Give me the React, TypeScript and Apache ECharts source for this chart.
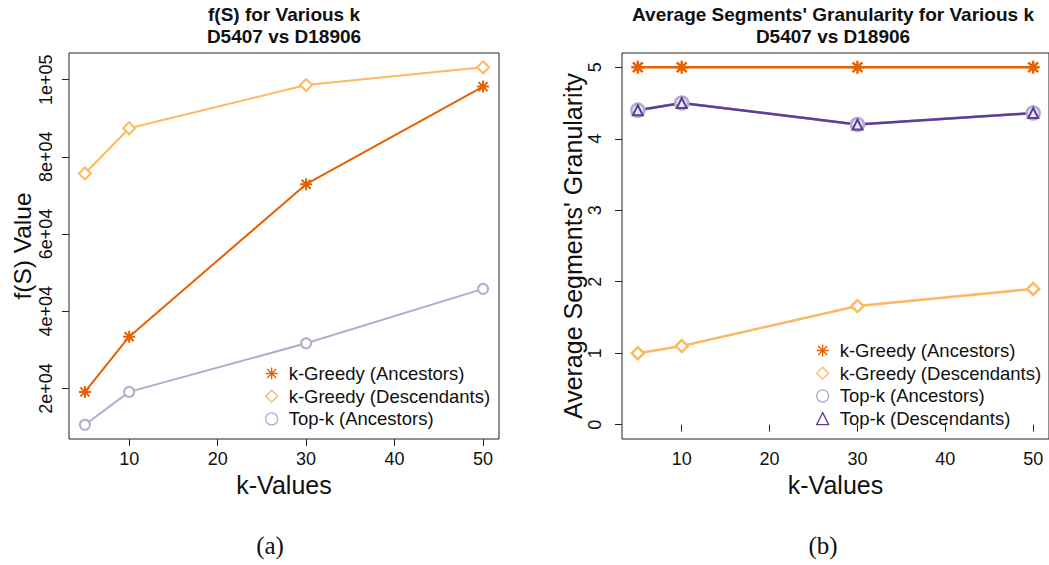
import React, { useEffect, useRef } from "react";
import * as echarts from "echarts";

const kValues = [5, 10, 30, 50];
const xTicks = [10, 20, 30, 40, 50];

// Panel (a): f(S) values
const fsGreedyAnc = [19100, 33400, 72900, 98200];
const fsGreedyDesc = [75700, 87400, 98600, 103200];
const fsTopkAnc = [10600, 19100, 31700, 45800];
const fsTicks = [20000, 40000, 60000, 80000, 100000];

// Panel (b): average segments' granularity
const granGreedyAnc = [5, 5, 5, 5];
const granGreedyDesc = [1.0, 1.1, 1.66, 1.9];
const granTopkAnc = [4.4, 4.5, 4.2, 4.36];
const granTopkDesc = [4.4, 4.5, 4.2, 4.36];
const granTicks = [0, 1, 2, 3, 4, 5];

const names = [
  "k-Greedy (Ancestors)",
  "k-Greedy (Descendants)",
  "Top-k (Ancestors)",
  "Top-k (Descendants)",
];

const C_DARK_ORANGE = "#E66101";
const C_LIGHT_ORANGE = "#FDB863";
const C_LAVENDER = "#B2ABD2";
const C_PURPLE = "#5E3C99";

const ASTERISK =
  "path://M0,-10L0,10M-10,0L10,0M-7.5,-7.5L7.5,7.5M-7.5,7.5L7.5,-7.5";

const FONT = "'Liberation Sans', Arial, Helvetica, sans-serif";

function ext(min: number, max: number) {
  const d = (max - min) * 0.04;
  return [min - d, max + d];
}

function sciLabel(v: number) {
  const s = v.toExponential(0); // e.g. 2e+4
  return s.replace(/e([+-])(\d)$/, "e$10$2");
}

export default function App() {
  const ref = useRef<HTMLDivElement>(null);
  useEffect(() => {
    if (!ref.current) return;
    const chart = echarts.init(ref.current, undefined, { renderer: "svg" });

    const allFs = [...fsGreedyAnc, ...fsGreedyDesc, ...fsTopkAnc];
    const [fsMin, fsMax] = ext(Math.min(...allFs), Math.max(...allFs));
    const [xMin, xMax] = ext(Math.min(...kValues), Math.max(...kValues));
    const [gMin, gMax] = ext(0, 5);

    const pairs = (ys: number[]) => kValues.map((k, i) => [k, ys[i]]);

    const xAxisBase = (gridIndex: number) => ({
      type: "value",
      gridIndex,
      min: xMin,
      max: xMax,
      splitLine: { show: false },
      axisLine: { show: false },
      axisTick: {
        show: true,
        length: 7,
        inside: false,
        customValues: xTicks,
        lineStyle: { color: "#222", width: 1 },
      },
      axisLabel: {
        customValues: xTicks,
        fontSize: 18,
        color: "#111",
        fontFamily: FONT,
        margin: 11,
      },
      name: "k-Values",
      nameLocation: "middle",
      nameGap: 29,
      nameTextStyle: { fontSize: 25, color: "#111", fontFamily: FONT },
    });

    const legendItem = (name: string, icon: string, color: string) => ({
      name,
      icon,
      itemStyle: { color: "transparent", borderColor: color, borderWidth: 1.3 },
    });

    const legendBase = {
      orient: "vertical",
      padding: 0,
      itemWidth: 12,
      itemHeight: 12,
      itemGap: 3.7,
      selectedMode: false,
      textStyle: {
        fontSize: 18.5,
        color: "#111",
        fontFamily: FONT,
        padding: [0, 0, 0, 6],
      },
    };

    const option: any = {
      animation: false,
      backgroundColor: "#fff",
      textStyle: { fontFamily: FONT },
      grid: [
        {
          left: 69,
          top: 53,
          width: 430,
          height: 386,
          show: true,
          borderColor: "#222",
          borderWidth: 1,
          backgroundColor: "transparent",
        },
        {
          left: 622,
          top: 53,
          width: 428,
          height: 386,
          show: true,
          borderColor: "#222",
          borderWidth: 1,
          backgroundColor: "transparent",
        },
      ],
      xAxis: [xAxisBase(0), xAxisBase(1)],
      yAxis: [
        {
          type: "value",
          gridIndex: 0,
          min: fsMin,
          max: fsMax,
          splitLine: { show: false },
          axisLine: { show: false },
          axisTick: {
            show: true,
            length: 7,
            customValues: fsTicks,
            lineStyle: { color: "#222", width: 1 },
          },
          axisLabel: {
            customValues: fsTicks,
            rotate: 90,
            fontSize: 18,
            color: "#111",
            fontFamily: FONT,
            margin: 14,
            formatter: (v: number) => sciLabel(v),
          },
          name: "f(S) Value",
          nameLocation: "middle",
          nameGap: 34,
          nameTextStyle: { fontSize: 24.5, color: "#111", fontFamily: FONT },
        },
        {
          type: "value",
          gridIndex: 1,
          min: gMin,
          max: gMax,
          splitLine: { show: false },
          axisLine: { show: false },
          axisTick: {
            show: true,
            length: 7,
            customValues: granTicks,
            lineStyle: { color: "#222", width: 1 },
          },
          axisLabel: {
            customValues: granTicks,
            rotate: 90,
            fontSize: 18,
            color: "#111",
            fontFamily: FONT,
            margin: 18,
          },
          name: "Average Segments' Granularity",
          nameLocation: "middle",
          nameGap: 35,
          nameTextStyle: { fontSize: 25, color: "#111", fontFamily: FONT },
        },
      ],
      legend: [
        {
          ...legendBase,
          left: 265,
          top: 364,
          data: [
            legendItem(names[0], ASTERISK, C_DARK_ORANGE),
            legendItem(names[1], "diamond", C_LIGHT_ORANGE),
            legendItem(names[2], "circle", C_LAVENDER),
          ],
        },
        {
          ...legendBase,
          left: 816,
          top: 341,
          data: [
            legendItem(names[0], ASTERISK, C_DARK_ORANGE),
            legendItem(names[1], "diamond", C_LIGHT_ORANGE),
            legendItem(names[2], "circle", C_LAVENDER),
            legendItem(names[3], "triangle", C_PURPLE),
          ],
        },
      ],
      series: [
        // Panel (a)
        {
          name: names[1],
          type: "line",
          xAxisIndex: 0,
          yAxisIndex: 0,
          data: pairs(fsGreedyDesc),
          symbol: "diamond",
          symbolSize: 12,
          lineStyle: { color: C_LIGHT_ORANGE, width: 2 },
          itemStyle: { color: "#fff", borderColor: C_LIGHT_ORANGE, borderWidth: 2 },
        },
        {
          name: names[0],
          type: "line",
          xAxisIndex: 0,
          yAxisIndex: 0,
          data: pairs(fsGreedyAnc),
          symbol: ASTERISK,
          symbolSize: 12,
          lineStyle: { color: C_DARK_ORANGE, width: 2 },
          itemStyle: { color: C_DARK_ORANGE, borderColor: C_DARK_ORANGE, borderWidth: 2 },
        },
        {
          name: names[2],
          type: "line",
          xAxisIndex: 0,
          yAxisIndex: 0,
          data: pairs(fsTopkAnc),
          symbol: "circle",
          symbolSize: 10,
          lineStyle: { color: C_LAVENDER, width: 2 },
          itemStyle: { color: "#fff", borderColor: C_LAVENDER, borderWidth: 2 },
        },
        // Panel (b)
        {
          name: names[0],
          type: "line",
          xAxisIndex: 1,
          yAxisIndex: 1,
          data: pairs(granGreedyAnc),
          symbol: ASTERISK,
          symbolSize: 13,
          lineStyle: { color: C_DARK_ORANGE, width: 2.5 },
          itemStyle: { color: C_DARK_ORANGE, borderColor: C_DARK_ORANGE, borderWidth: 2.5 },
        },
        {
          name: names[1],
          type: "line",
          xAxisIndex: 1,
          yAxisIndex: 1,
          data: pairs(granGreedyDesc),
          symbol: "diamond",
          symbolSize: 12,
          lineStyle: { color: C_LIGHT_ORANGE, width: 2.5 },
          itemStyle: { color: "#fff", borderColor: C_LIGHT_ORANGE, borderWidth: 2.5 },
        },
        {
          name: names[2],
          type: "line",
          xAxisIndex: 1,
          yAxisIndex: 1,
          data: pairs(granTopkAnc),
          symbol: "circle",
          symbolSize: 13,
          lineStyle: { color: C_LAVENDER, width: 2.5 },
          itemStyle: { color: "#ECEAF4", borderColor: C_LAVENDER, borderWidth: 2.5 },
        },
        {
          name: names[3],
          type: "line",
          xAxisIndex: 1,
          yAxisIndex: 1,
          data: pairs(granTopkDesc),
          symbol: "triangle",
          symbolSize: 10,
          lineStyle: { color: C_PURPLE, width: 2.5 },
          itemStyle: { color: "transparent", borderColor: C_PURPLE, borderWidth: 2 },
          z: 3,
        },
      ],
      graphic: [
        {
          type: "text",
          x: 284,
          y: 14,
          style: {
            text: "f(S) for Various k",
            font: `bold 19px ${FONT}`,
            fill: "#111",
            align: "center",
            verticalAlign: "middle",
          },
        },
        {
          type: "text",
          x: 284,
          y: 36,
          style: {
            text: "D5407 vs D18906",
            font: `bold 19px ${FONT}`,
            fill: "#111",
            align: "center",
            verticalAlign: "middle",
          },
        },
        {
          type: "text",
          x: 833,
          y: 14,
          style: {
            text: "Average Segments' Granularity for Various k",
            font: `bold 19px ${FONT}`,
            fill: "#111",
            align: "center",
            verticalAlign: "middle",
          },
        },
        {
          type: "text",
          x: 833,
          y: 36,
          style: {
            text: "D5407 vs D18906",
            font: `bold 19px ${FONT}`,
            fill: "#111",
            align: "center",
            verticalAlign: "middle",
          },
        },
        {
          type: "text",
          x: 270,
          y: 545,
          style: {
            text: "(a)",
            font: "25px 'Liberation Serif', 'Times New Roman', serif",
            fill: "#111",
            align: "center",
            verticalAlign: "middle",
          },
        },
        {
          type: "text",
          x: 823,
          y: 545,
          style: {
            text: "(b)",
            font: "25px 'Liberation Serif', 'Times New Roman', serif",
            fill: "#111",
            align: "center",
            verticalAlign: "middle",
          },
        },
      ],
    };

    chart.setOption(option);
    return () => chart.dispose();
  }, []);

  return (
    <div
      ref={ref}
      style={{ position: "fixed", left: 0, top: 0, width: 1049, height: 565 }}
    />
  );
}
